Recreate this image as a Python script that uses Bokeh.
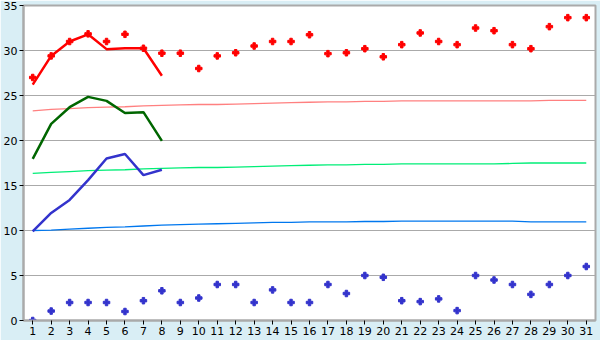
from bokeh.plotting import figure
from bokeh.models import Range1d, FixedTicker
from bokeh.embed import file_html
from bokeh.resources import INLINE

days = list(range(1, 32))
days_recent = list(range(1, 9))

max_daily = [27.0, 29.4, 31.0, 31.85, 31.0, 31.8, 30.25, 29.7, 29.7, 28.0,
             29.4, 29.75, 30.5, 31.0, 31.0, 31.75, 29.65, 29.75, 30.2, 29.3,
             30.65, 31.95, 31.0, 30.65, 32.5, 32.2, 30.65, 30.2, 32.65, 33.65, 33.65]
min_daily = [0.0, 1.05, 2.0, 2.0, 2.0, 1.0, 2.2, 3.3, 2.0, 2.5,
             4.0, 4.0, 2.0, 3.4, 2.0, 2.0, 4.0, 3.0, 5.0, 4.8,
             2.2, 2.1, 2.4, 1.1, 5.0, 4.5, 4.0, 2.9, 4.0, 5.0, 6.0]

max_recent = [26.2, 29.4, 31.0, 31.8, 30.15, 30.25, 30.25, 27.2]
mean_recent = [17.95, 21.85, 23.7, 24.85, 24.4, 23.05, 23.15, 19.95]
min_recent = [9.9, 11.95, 13.4, 15.6, 18.0, 18.5, 16.15, 16.75]

max_normal = [23.3, 23.45, 23.55, 23.65, 23.7, 23.75, 23.85, 23.9, 23.95, 24.0,
              24.0, 24.05, 24.1, 24.15, 24.2, 24.25, 24.3, 24.3, 24.35, 24.35,
              24.4, 24.4, 24.4, 24.4, 24.4, 24.4, 24.4, 24.4, 24.45, 24.45, 24.45]
mean_normal = [16.35, 16.45, 16.55, 16.65, 16.7, 16.75, 16.85, 16.9, 16.95, 17.0,
               17.0, 17.05, 17.1, 17.15, 17.2, 17.25, 17.3, 17.3, 17.35, 17.35,
               17.4, 17.4, 17.4, 17.4, 17.4, 17.4, 17.45, 17.5, 17.5, 17.5, 17.5]
min_normal = [10.0, 10.05, 10.15, 10.25, 10.35, 10.4, 10.5, 10.6, 10.65, 10.7,
              10.75, 10.8, 10.85, 10.9, 10.9, 10.95, 10.95, 10.95, 11.0, 11.0,
              11.05, 11.05, 11.05, 11.05, 11.05, 11.05, 11.05, 10.95, 10.95, 10.95, 10.95]

y_ticks = [0, 5, 10, 15, 20, 25, 30, 35]

p = figure(width=600, height=340, output_backend="svg", toolbar_location=None,
           x_range=Range1d(0.5, 31.5), y_range=Range1d(0, 35),
           min_border_left=20, min_border_right=5, min_border_top=5, min_border_bottom=20)

p.border_fill_color = "#d9eef5"
p.background_fill_color = "white"
p.outline_line_color = "#aaaaaa"
p.outline_line_width = 2

p.xgrid.grid_line_color = None
p.ygrid.grid_line_color = "#aaaaaa"
p.ygrid.grid_line_width = 1
p.ygrid.ticker = FixedTicker(ticks=y_ticks)

for ax in (p.xaxis[0], p.yaxis[0]):
    ax.axis_line_color = "#aaaaaa"
    ax.axis_line_width = 2
    ax.major_tick_line_color = "black"
    ax.major_tick_out = 4
    ax.major_tick_in = 0
    ax.minor_tick_line_color = None
    ax.major_label_text_font = "DejaVu Sans"
    ax.major_label_text_font_size = "11px"
    ax.major_label_text_color = "black"
    ax.major_label_standoff = 2

p.xaxis[0].ticker = FixedTicker(ticks=days)
p.yaxis[0].ticker = FixedTicker(ticks=y_ticks)

p.line(days, max_normal, line_color="#ff8080", line_width=1.3)
p.line(days, mean_normal, line_color="#00ee77", line_width=1.3)
p.line(days, min_normal, line_color="#0077ee", line_width=1.3)

p.line(days_recent, max_recent, line_color="#ff0000", line_width=2.5)
p.line(days_recent, mean_recent, line_color="#006600", line_width=2.5)
p.line(days_recent, min_recent, line_color="#3333cc", line_width=2.5)

p.scatter(days, max_daily, marker="plus", size=6.5, color="#ff0000")
p.scatter(days, min_daily, marker="plus", size=6.5, color="#3333cc")

open("out.html", "w").write(file_html(p, INLINE))
